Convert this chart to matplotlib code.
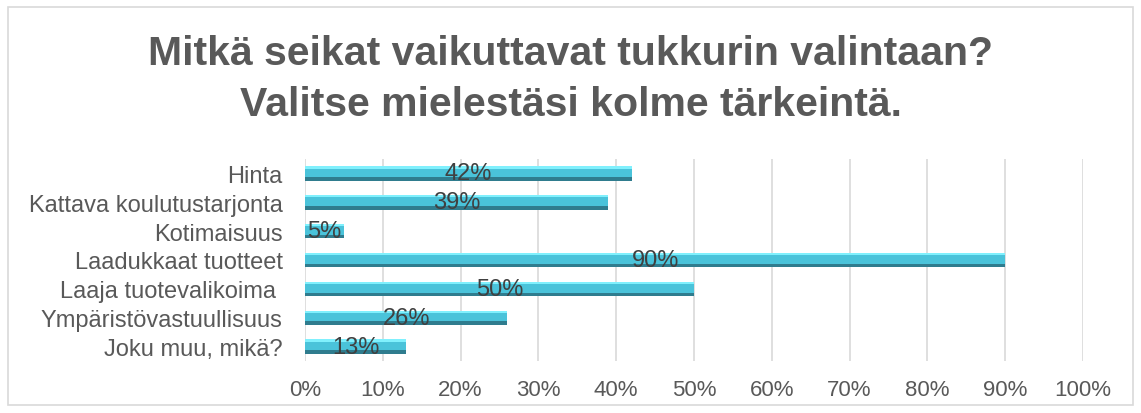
import matplotlib.pyplot as plt
from matplotlib.patches import Rectangle
import numpy as np

# survey answers, top to bottom as in the chart
categories = ["Hinta", "Kattava koulutustarjonta", "Kotimaisuus",
              "Laadukkaat tuotteet", "Laaja tuotevalikoima ",
              "Ympäristövastuullisuus", "Joku muu, mikä?"]
shares = [42, 39, 5, 90, 50, 26, 13]
xticks = [0, 10, 20, 30, 40, 50, 60, 70, 80, 90, 100]

plt.rcParams['font.family'] = ['Liberation Sans', 'DejaVu Sans']

fig = plt.figure(figsize=(11.41, 4.14), dpi=100)
fig.patches.append(Rectangle((8 / 1141, 8 / 414), 1125 / 1141, 398 / 414,
                             transform=fig.transFigure, fill=False,
                             edgecolor='#d9d9d9', linewidth=1.2))

fig.text(0.5, 0.808, "Mitkä seikat vaikuttavat tukkurin valintaan?\nValitse mielestäsi kolme tärkeintä.",
         ha='center', va='center', fontsize=29.5, fontweight='bold',
         color='#595959', linespacing=1.43)

ax = fig.add_axes([305 / 1141, 52 / 414, 778 / 1141, 202 / 414])
y = np.arange(len(categories))
h = 0.5

# bevelled bars: base, light top edge, dark bottom edge
ax.barh(y, shares, height=h, color='#4ac3da', zorder=2)
ax.barh(y - h / 2 + 0.04, shares, height=0.08, color='#80f0fd', zorder=3)
ax.barh(y + h / 2 - 0.06, shares, height=0.12, color='#2f7c8e', zorder=3)

for yi, v in zip(y, shares):
    ax.text(v / 2, yi, f"{v}%", ha='center', va='center', fontsize=17,
            color='#404040', zorder=4)

ax.set_xlim(0, 100)
ax.set_ylim(len(categories) - 0.5, -0.5)
ax.set_xticks(xticks)
ax.set_xticklabels([f"{t}%" for t in xticks])
ax.set_yticks(y)
ax.set_yticklabels(categories)
ax.tick_params(axis='both', length=0, labelcolor='#595959')
ax.tick_params(axis='y', pad=16, labelsize=17)
ax.tick_params(axis='x', pad=13, labelsize=16)
ax.grid(axis='x', color='#d9d9d9', linewidth=1.2, zorder=0)
for s in ax.spines.values():
    s.set_visible(False)

fig.savefig('out.png', dpi=100)
